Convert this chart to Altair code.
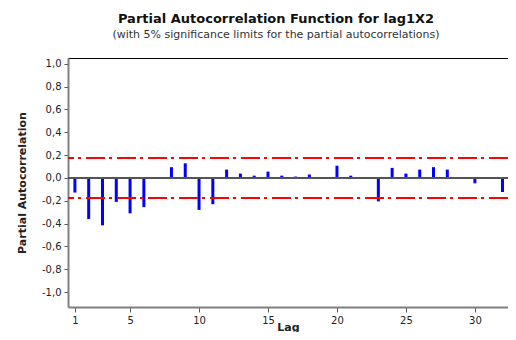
import altair as alt
import pandas as pd

lags = list(range(1, 33))
pacf = [-0.128, -0.36, -0.415, -0.21, -0.31, -0.255, 0.003, 0.094, 0.128, -0.28,
        -0.23, 0.073, 0.038, 0.02, 0.055, 0.02, 0.012, 0.03, 0.003, 0.107,
        0.02, -0.005, -0.205, 0.088, 0.038, 0.073, 0.094, 0.073, 0.003, -0.047,
        -0.005, -0.123]
limit = 0.178
x_ticks = [1, 5, 10, 15, 20, 25, 30]
y_ticks = [-1.0, -0.8, -0.6, -0.4, -0.2, 0.0, 0.2, 0.4, 0.6, 0.8, 1.0]

df = pd.DataFrame({"Lag": lags, "PACF": pacf})

FONT = "DejaVu Sans"
label_expr = "replace(replace(format(datum.value, '.1f'), '.', ','), '\u2212', '-')"
x_scale = alt.Scale(domain=[0.5, 32.4], nice=False, zero=False)
y_scale = alt.Scale(domain=[-1.13, 1.05], nice=False, zero=False)

x_axis = alt.Axis(values=x_ticks, title="Lag", grid=False, tickSize=5,
                  labelFont=FONT, labelFontSize=10, labelColor="#222",
                  titleFont=FONT, titleFontSize=11, titleFontWeight="bold",
                  titleColor="#222", domainColor="#808080", domainWidth=2,
                  tickColor="#555", labelPadding=3, titleBaseline="alphabetic",
                  titleY=23, labelFlush=False, labelOverlap=False)
y_axis = alt.Axis(values=y_ticks, title="Partial Autocorrelation", grid=False,
                  labelExpr=label_expr, tickSize=4, labelFont=FONT,
                  labelFontSize=10, labelColor="#222", titleFont=FONT,
                  titleFontSize=11, titleFontWeight="bold", titleColor="#222",
                  domainColor="#808080", domainWidth=2, tickColor="#555",
                  labelPadding=3, titlePadding=14, labelOverlap=False)

bars = alt.Chart(df).mark_rule(color="#0000FF", strokeWidth=3, strokeCap="butt").encode(
    x=alt.X("Lag:Q", scale=x_scale, axis=x_axis),
    y=alt.Y("PACF:Q", scale=y_scale, axis=y_axis),
    y2=alt.datum(0),
)
frame_top = alt.Chart(df).mark_point(opacity=0).encode(
    x=alt.X("Lag:Q", scale=x_scale,
            axis=alt.Axis(orient="top", labels=False, ticks=False, grid=False,
                          title=None, domainColor="black", domainWidth=1))
)
zero = alt.Chart(df).mark_rule(color="#555555", strokeWidth=1.5).encode(
    y=alt.Y(datum=0, type="quantitative", scale=y_scale, axis=y_axis))
upper = alt.Chart(df).mark_rule(color="#FF0000", strokeWidth=1,
                                strokeDash=[19, 5, 3, 4]).encode(
    y=alt.Y(datum=limit, type="quantitative", scale=y_scale, axis=y_axis))
lower = alt.Chart(df).mark_rule(color="#FF0000", strokeWidth=1,
                                strokeDash=[19, 5, 3, 4]).encode(
    y=alt.Y(datum=-limit, type="quantitative", scale=y_scale, axis=y_axis))

chart = alt.layer(bars, upper, lower, zero, frame_top).resolve_axis(
    x="independent"
).properties(
    width=440, height=249,
    title=alt.TitleParams(
        "Partial Autocorrelation Function for lag1X2",
        subtitle="(with 5% significance limits for the partial autocorrelations)",
        font=FONT, fontSize=13, fontWeight="bold", color="#111",
        subtitleFont=FONT, subtitleFontSize=11, subtitleColor="#333",
        anchor="middle", dx=-12, offset=18, subtitlePadding=3,
    ),
    autosize=alt.AutoSizeParams(type="none"),
    padding={"left": 60, "top": 50, "right": 0, "bottom": 25},
).configure_view(stroke=None).configure_axisY(labelOverlap=False)

chart.save("out.html", embed_options={"renderer": "svg", "actions": False})
